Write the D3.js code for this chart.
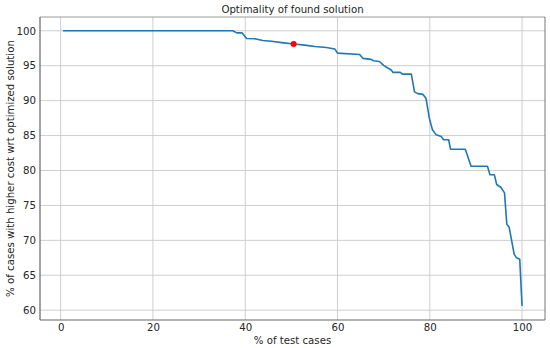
<!DOCTYPE html>
<html>
<head>
<meta charset="utf-8">
<script src="https://cdn.jsdelivr.net/npm/d3@7"></script>
<style>
  body { margin: 0; background: #fff; }
  text { font-family: "DejaVu Sans", sans-serif; fill: #262626; }
</style>
</head>
<body>
<script>
var width = 550, height = 348;
var margin = {top: 17, right: 5, bottom: 28, left: 40};

// breakpoints of the curve
var pctCases = [0.5, 37.3, 38.2, 39.3, 40.3, 42.1, 43.8, 45.7, 47.9, 50.5, 52.9, 55.1, 57.6, 59.4,
  60.0, 64.8, 65.5, 67.3, 67.8, 69.1, 70.0, 71.7, 72.0, 73.6, 74.1, 76.0, 76.7, 77.4, 78.5, 79.2,
  79.9, 80.6, 81.4, 82.5, 83.0, 84.1, 84.5, 87.7, 88.95, 92.5, 93.05, 94.0, 94.5, 95.4, 96.2, 96.7,
  97.2, 98.3, 98.8, 99.5, 100];
var pctHigher = [100, 100, 99.7, 99.7, 98.9, 98.85, 98.6, 98.5, 98.3, 98.1, 97.95, 97.75, 97.6, 97.4,
  96.8, 96.6, 96.05, 95.9, 95.7, 95.6, 95.05, 94.35, 94.05, 94.05, 93.8, 93.8, 91.25, 91.0, 90.9, 90.3,
  87.5, 85.8, 85.1, 84.85, 84.4, 84.4, 83.05, 83.05, 80.6, 80.6, 79.4, 79.4, 78.0, 77.6, 76.8, 72.3,
  71.9, 68.0, 67.5, 67.3, 60.6];
var marked = [50.5, 98.1];
var xTicks = [0, 20, 40, 60, 80, 100];
var yTicks = [60, 65, 70, 75, 80, 85, 90, 95, 100];

var data = pctCases.map(function (d, i) { return {x: d, y: pctHigher[i]}; });

var svg = d3.select("body").append("svg")
  .attr("width", width).attr("height", height);

var x = d3.scaleLinear().domain([-4.475, 104.975])
  .range([margin.left, width - margin.right]);
var y = d3.scaleLinear().domain([58.6, 101.97])
  .range([height - margin.bottom, margin.top]);

var g = svg.append("g");

// grid
g.selectAll(".gx").data(xTicks).enter().append("line")
  .attr("x1", function (d) { return x(d); }).attr("x2", function (d) { return x(d); })
  .attr("y1", margin.top).attr("y2", height - margin.bottom)
  .attr("stroke", "#c8c8c8").attr("stroke-width", 0.9);
g.selectAll(".gy").data(yTicks).enter().append("line")
  .attr("y1", function (d) { return y(d); }).attr("y2", function (d) { return y(d); })
  .attr("x1", margin.left).attr("x2", width - margin.right)
  .attr("stroke", "#c8c8c8").attr("stroke-width", 0.9);

// axes (labels only, no tick marks)
var xAxis = svg.append("g")
  .attr("transform", "translate(0," + (height - margin.bottom) + ")")
  .call(d3.axisBottom(x).tickValues(xTicks).tickSize(0).tickPadding(4));
var yAxis = svg.append("g")
  .attr("transform", "translate(" + margin.left + ",0)")
  .call(d3.axisLeft(y).tickValues(yTicks).tickSize(0).tickPadding(4));
[xAxis, yAxis].forEach(function (a) {
  a.select(".domain").remove();
  a.selectAll("text").style("font-size", "10.2px").style("fill", "#262626")
    .style("font-family", "DejaVu Sans, sans-serif");
});

// spines
svg.append("line").attr("x1", margin.left).attr("x2", width - margin.right)
  .attr("y1", margin.top).attr("y2", margin.top).attr("stroke", "#9a9a9a").attr("stroke-width", 1);
svg.append("line").attr("x1", width - margin.right).attr("x2", width - margin.right)
  .attr("y1", margin.top).attr("y2", height - margin.bottom).attr("stroke", "#777").attr("stroke-width", 1);
svg.append("line").attr("x1", margin.left).attr("x2", margin.left)
  .attr("y1", margin.top).attr("y2", height - margin.bottom).attr("stroke", "#666").attr("stroke-width", 1.2);
svg.append("line").attr("x1", margin.left).attr("x2", width - margin.right)
  .attr("y1", height - margin.bottom).attr("y2", height - margin.bottom).attr("stroke", "#666").attr("stroke-width", 1.2);

// curve
var line = d3.line().x(function (d) { return x(d.x); }).y(function (d) { return y(d.y); });
svg.append("path").datum(data)
  .attr("d", line)
  .attr("fill", "none")
  .attr("stroke", "#1f77b4")
  .attr("stroke-width", 1.6)
  .attr("stroke-linejoin", "round");

svg.append("circle")
  .attr("cx", x(marked[0])).attr("cy", y(marked[1]))
  .attr("r", 3).attr("fill", "red");

// texts
svg.append("text").attr("x", (margin.left + width - margin.right) / 2).attr("y", 12.5)
  .attr("text-anchor", "middle").style("font-size", "10.2px")
  .text("Optimality of found solution");
svg.append("text").attr("x", (margin.left + width - margin.right) / 2).attr("y", 344)
  .attr("text-anchor", "middle").style("font-size", "10.2px")
  .text("% of test cases");
svg.append("text")
  .attr("transform", "translate(14," + ((margin.top + height - margin.bottom) / 2) + ") rotate(-90)")
  .attr("text-anchor", "middle").style("font-size", "10.2px")
  .text("% of cases with higher cost wrt optimized solution");
</script>
</body>
</html>
